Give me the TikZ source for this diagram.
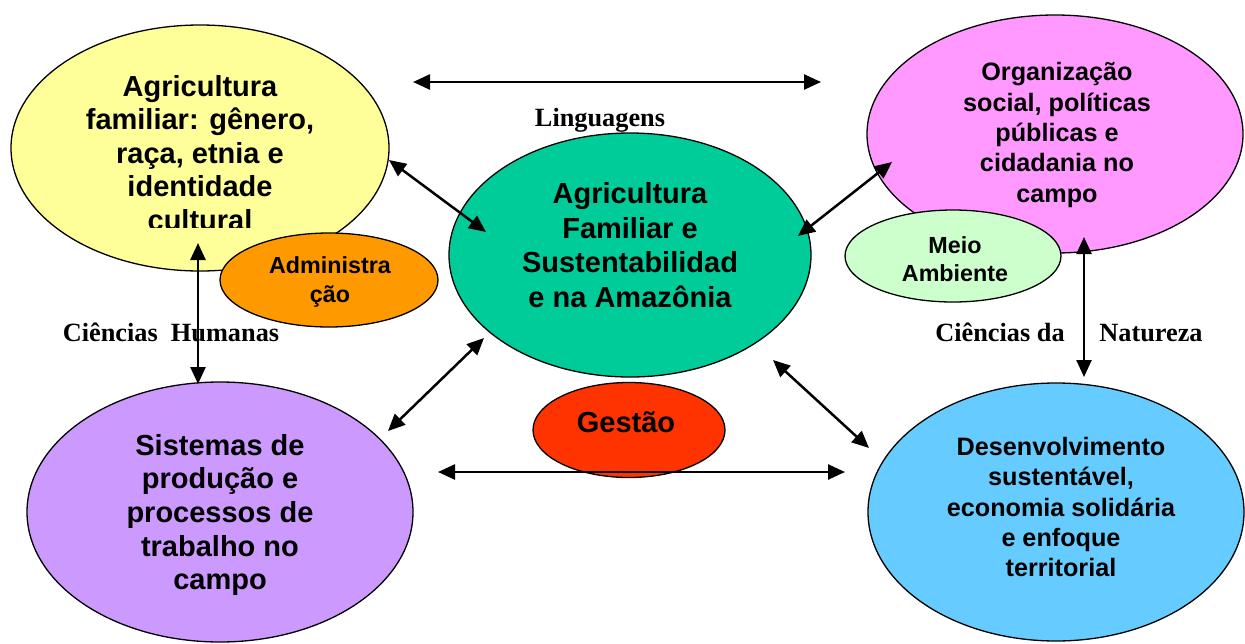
\documentclass[tikz,border=0pt]{standalone}
\usepackage{fontspec}
\setmainfont{Liberation Serif}
\newfontfamily\arialb{Liberation Sans}
\usetikzlibrary{shapes.geometric,arrows.meta}
\definecolor{cyellow}{HTML}{FFFF99}
\definecolor{cpink}{HTML}{FF99FF}
\definecolor{cgreen}{HTML}{00CC99}
\definecolor{cpurple}{HTML}{CC99FF}
\definecolor{cblue}{HTML}{66CCFF}
\definecolor{corange}{HTML}{FF9900}
\definecolor{clgreen}{HTML}{CCFFCC}
\definecolor{cred}{HTML}{FF3300}
\begin{document}
\begin{tikzpicture}[x=1pt,y=-1pt,
  bub/.style={ellipse,draw=black,line width=1.3pt,inner sep=0pt},
  bigtxt/.style={font=\arialb\bfseries\fontsize{29}{33.6}\selectfont,align=center,inner sep=0pt},
  midtxt/.style={font=\arialb\bfseries\fontsize{25.2}{30.4}\selectfont,align=center,inner sep=0pt},
  smalltxt/.style={font=\arialb\bfseries\fontsize{23.3}{28.5}\selectfont,align=center,inner sep=0pt},
  lbl/.style={font=\bfseries\fontsize{26.3}{30}\selectfont,anchor=base,inner sep=0pt},
  link/.style={line width=2.5pt,{Triangle[length=17pt,width=15pt]}-{Triangle[length=17pt,width=15pt]}}
]
\useasboundingbox (0,0) rectangle (1245,643);
% ellipses
\node[bub,fill=cyellow,minimum width=378pt,minimum height=246pt] (yel) at (200,148) {};
\node[bub,fill=corange,minimum width=218pt,minimum height=94pt] (adm) at (329,280) {};
\node[bub,fill=cpink,minimum width=376pt,minimum height=238pt] (pink) at (1055,134) {};
\node[bub,fill=clgreen,minimum width=216pt,minimum height=92pt] (meio) at (953,256) {};
\node[bub,fill=cgreen,minimum width=362pt,minimum height=244pt] (cen) at (630,255) {};
\node[bub,fill=cpurple,minimum width=386pt,minimum height=260pt] (pur) at (220,512) {};
\node[bub,fill=cblue,minimum width=376pt,minimum height=258pt] (blu) at (1056,512) {};
\node[bub,fill=cred,minimum width=192pt,minimum height=95pt] (ges) at (629,430) {};
% texts
\begin{scope}
\clip (0,0) rectangle (1245,227);
\node[bigtxt] (yeltxt) at (200,153) {Agricultura\\familiar: gênero,\\raça, etnia e\\identidade\\cultural};
\end{scope}
\node[smalltxt] (admtxt) at (330,282) {Administra\\ção};
\node[midtxt] (pinktxt) at (1057,135) {Organização\\social, políticas\\públicas e\\cidadania no\\campo};
\node[smalltxt] (meiotxt) at (955,259) {Meio\\Ambiente};
\node[bigtxt,font=\arialb\bfseries\fontsize{29}{34.6}\selectfont] (centxt) at (630,245) {Agricultura\\Familiar e\\Sustentabilidad\\e na Amazônia};
\node[bigtxt] (purtxt) at (220,515) {Sistemas de\\produção e\\processos de\\trabalho no\\campo};
\node[midtxt] (blutxt) at (1061,507) {Desenvolvimento\\sustentável,\\economia solidária\\e enfoque\\territorial};
\node[bigtxt] (gestxt) at (626,422) {Gestão};
% labels
\node[lbl] (ling) at (600,126) {Linguagens};
\node[lbl] (chum) at (171,341) {Ciências\ \ Humanas};
\node[lbl] (cda) at (1000,341) {Ciências da};
\node[lbl] (cnat) at (1151,341) {Natureza};
% arrow end points
\coordinate (tL) at (413,82);
\coordinate (tR) at (821,82);
\coordinate (bL) at (438,472);
\coordinate (bR) at (845,472);
\coordinate (yA) at (389,160);
\coordinate (cA) at (486,232);
\coordinate (cB) at (798,236);
\coordinate (pA) at (892,162);
\coordinate (cC) at (484,338);
\coordinate (uA) at (388,431);
\coordinate (cD) at (773,360);
\coordinate (bA) at (869,448);
\coordinate (lvT) at (198,243);
\coordinate (lvB) at (198,384);
\coordinate (rvT) at (1084,237);
\coordinate (rvB) at (1084,377);
% arrows
\draw[link] (tL) -- (tR);
\draw[link] (bL) -- (bR);
\draw[link] (yA) -- (cA);
\draw[link] (cB) -- (pA);
\draw[link] (cC) -- (uA);
\draw[link] (cD) -- (bA);
\draw[link] (lvT) -- (lvB);
\draw[link] (rvT) -- (rvB);
\end{tikzpicture}
\end{document}
